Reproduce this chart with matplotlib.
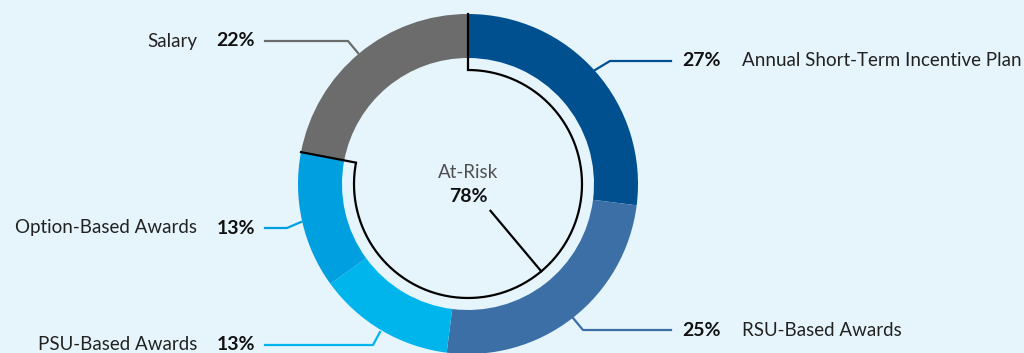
import numpy as np
import matplotlib.pyplot as plt

# --- Data ---
labels = ['Annual Short-Term Incentive Plan', 'RSU-Based Awards', 'PSU-Based Awards',
          'Option-Based Awards', 'Salary']
shares = [27, 25, 13, 13, 22]
colors = ['#00508f', '#3b6fa6', '#00b5ec', '#009fe0', '#6b6c6b']
at_risk_label = 'At-Risk'
at_risk_value = 78

BG = '#e6f5fc'
CX, CY = 468, 169          # donut centre (y measured from bottom)
R_OUT, WIDTH = 170, 44
R_RISK = 114
LABEL_SIZE = 13.5

fig = plt.figure(figsize=(10.24, 3.53), dpi=100, facecolor=BG)
ax = fig.add_axes([0, 0, 1, 1])
ax.set_facecolor(BG)

ax.pie(shares, colors=colors, radius=R_OUT, center=(CX, CY), startangle=90,
       counterclock=False, wedgeprops=dict(width=WIDTH, linewidth=0))

# --- At-risk bracket: radial line at top, arc over 78%, radial line back out ---
end_deg = 90 - 360 * at_risk_value / 100
theta = np.radians(np.linspace(90, end_deg, 300))
xs = np.concatenate([[CX], CX + R_RISK * np.cos(theta), [CX + R_OUT * np.cos(theta[-1])]])
ys = np.concatenate([[CY + R_OUT], CY + R_RISK * np.sin(theta), [CY + R_OUT * np.sin(theta[-1])]])
ax.plot(xs, ys, color='black', lw=1.6, solid_joinstyle='miter', zorder=5)

# pointer from centre text to the arc
pa = np.radians(-50)
ax.plot([CX + 35 * np.cos(pa), CX + R_RISK * np.cos(pa)],
        [CY + 35 * np.sin(pa), CY + R_RISK * np.sin(pa)], color='black', lw=1.6)

ax.text(CX, 180, at_risk_label, ha='center', va='center', fontsize=13.5,
        color='#505050', family='Lato')
ax.text(CX, 157, f'{at_risk_value}%', ha='center', va='center', fontsize=14,
        fontweight='bold', color='#111111', family='Lato')

# --- Leader lines and labels ---
# right side: (ring point, elbow, end), text to the right
right = {0: [(595, 283), (610, 292), (671, 292)],
         1: [(573, 35), (583, 23), (671, 23)]}
left = {4: [(358, 300), (348, 312), (265, 312)],
        3: [(301, 131), (287, 125), (265, 125)],
        2: [(380, 21), (373, 8), (265, 8)]}

for i, pts in right.items():
    px, py = zip(*pts)
    ax.plot(px, py, color=colors[i], lw=1.6)
    ax.text(682, py[-1], f'{shares[i]}%', ha='left', va='center', fontsize=14,
            fontweight='bold', color='#111111', family='Lato')
    ax.text(742, py[-1], labels[i], ha='left', va='center', fontsize=LABEL_SIZE,
            color='#222222', family='Lato')

for i, pts in left.items():
    px, py = zip(*pts)
    ax.plot(px, py, color=colors[i], lw=1.6)
    ax.text(255, py[-1], f'{shares[i]}%', ha='right', va='center', fontsize=14,
            fontweight='bold', color='#111111', family='Lato')
    ax.text(197, py[-1], labels[i], ha='right', va='center', fontsize=LABEL_SIZE,
            color='#222222', family='Lato')

ax.set_xlim(0, 1024)
ax.set_ylim(0, 353)
ax.set_aspect('equal')
ax.axis('off')

fig.savefig('out.png', dpi=100, facecolor=BG)
